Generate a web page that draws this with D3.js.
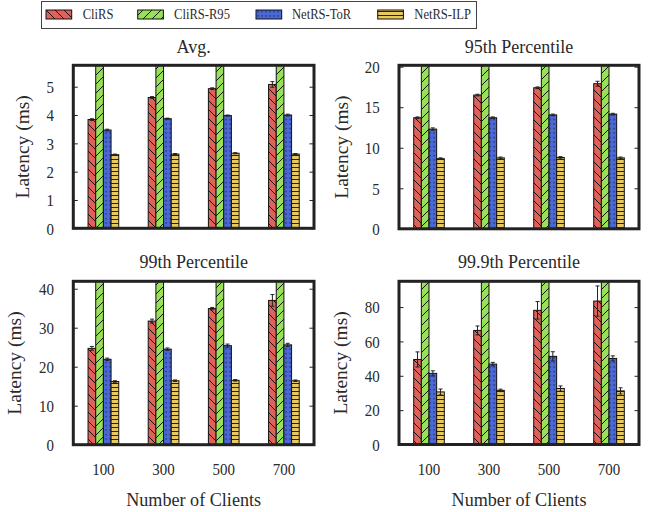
<!DOCTYPE html>
<html>
<head>
<meta charset="utf-8">
<script src="https://cdn.jsdelivr.net/npm/d3@7"></script>
<style>
  html, body { margin: 0; padding: 0; background: #fff; }
  svg { display: block; }
  text { font-family: "Liberation Serif", "Times New Roman", "DejaVu Serif", serif; fill: #2a2a2a; }
</style>
</head>
<body>
<svg id="chart" width="652" height="512"></svg>
<script>
// ---------- data ----------
const categories = ["100", "300", "500", "700"];
const seriesNames = ["CliRS", "CliRS-R95", "NetRS-ToR", "NetRS-ILP"];
const panelTitles = ["Avg.", "95th Percentile", "99th Percentile", "99.9th Percentile"];

// values (ms); CliRS-R95 bars run off the top of every panel (clipped)
const avgCliRS   = [3.84, 4.62, 4.93, 5.08];
const avgR95     = [6.4, 7.1, 7.6, 8.0];
const avgToR     = [3.47, 3.87, 3.98, 4.00];
const avgILP     = [2.60, 2.62, 2.65, 2.62];
const avgErr     = [[0.03, 0.03, 0.03, 0.10], [0, 0, 0, 0], [0.03, 0.02, 0.02, 0.03], [0.02, 0.02, 0.02, 0.02]];

const p95CliRS   = [13.7, 16.5, 17.4, 17.9];
const p95R95     = [24, 27, 29, 31];
const p95ToR     = [12.3, 13.7, 14.05, 14.15];
const p95ILP     = [8.65, 8.75, 8.80, 8.75];
const p95Err     = [[0.1, 0.1, 0.1, 0.3], [0, 0, 0, 0], [0.15, 0.1, 0.1, 0.1], [0.1, 0.1, 0.1, 0.1]];

const p99CliRS   = [24.7, 31.7, 34.9, 37.0];
const p99R95     = [50, 56, 60, 64];
const p99ToR     = [21.9, 24.5, 25.4, 25.6];
const p99ILP     = [16.2, 16.4, 16.5, 16.4];
const p99Err     = [[0.5, 0.5, 0.3, 1.5], [0, 0, 0, 0], [0.3, 0.3, 0.4, 0.4], [0.2, 0.2, 0.2, 0.2]];

const p999CliRS  = [49.5, 66.4, 78.1, 83.5];
const p999R95    = [110, 120, 130, 140];
const p999ToR    = [41.4, 46.8, 51.3, 50.1];
const p999ILP    = [30.6, 31.5, 32.6, 31.2];
const p999Err    = [[4.4, 2.6, 5.1, 8.8], [0, 0, 0, 0], [1.5, 1.0, 2.7, 1.5], [1.7, 0.7, 1.5, 1.8]];

const yTicksAvg  = [0, 1, 2, 3, 4, 5];
const yTicks95   = [0, 5, 10, 15, 20];
const yTicks99   = [0, 10, 20, 30, 40];
const yTicks999  = [0, 20, 40, 60, 80];
const yMaxes     = [5.756, 20.17, 41.9, 95];

// ---------- layout ----------
const svg = d3.select("#chart");
svg.append("rect").attr("width", 652).attr("height", 512).attr("fill", "#fff");

const colors = ["#e0605a", "#98e058", "#4a68d8", "#e8c860"];
const SX = 0.88;   // horizontal compression for tick text
const SXL = 0.93;  // for axis labels
const SXG = 0.9;   // for legend

const defs = svg.append("defs");
// CliRS: "\" hatch
let p = defs.append("pattern").attr("id", "pat0").attr("patternUnits", "userSpaceOnUse").attr("width", 9).attr("height", 9);
p.append("rect").attr("width", 9).attr("height", 9).attr("fill", colors[0]);
p.append("path").attr("d", "M0,0L9,9M-3,6L3,12M6,-3L12,3").attr("stroke", "#111").attr("stroke-width", 1);
// CliRS-R95: "/" hatch
p = defs.append("pattern").attr("id", "pat1").attr("patternUnits", "userSpaceOnUse").attr("width", 9).attr("height", 9);
p.append("rect").attr("width", 9).attr("height", 9).attr("fill", colors[1]);
p.append("path").attr("d", "M0,9L9,0M-3,3L3,-3M6,12L12,6").attr("stroke", "#111").attr("stroke-width", 1);
// NetRS-ToR: dots
p = defs.append("pattern").attr("id", "pat2").attr("patternUnits", "userSpaceOnUse").attr("width", 4).attr("height", 4.5);
p.append("rect").attr("width", 4).attr("height", 4.5).attr("fill", colors[2]);
p.append("rect").attr("x", 1.5).attr("y", 2).attr("width", 1.1).attr("height", 1.1).attr("fill", "#111");
// NetRS-ILP: horizontal lines
p = defs.append("pattern").attr("id", "pat3").attr("patternUnits", "userSpaceOnUse").attr("width", 4).attr("height", 4);
p.append("rect").attr("width", 4).attr("height", 4).attr("fill", colors[3]);
p.append("rect").attr("x", 0).attr("y", 3).attr("width", 4).attr("height", 1).attr("fill", "#222");

const panels = [
  { title: panelTitles[0], vals: [avgCliRS, avgR95, avgToR, avgILP], err: avgErr, ticks: yTicksAvg, ymax: yMaxes[0],
    x0: 73.3, x1: 314, y0: 65.3, y1: 228.3, titleY: 53, labX: 29.4, xlabels: false },
  { title: panelTitles[1], vals: [p95CliRS, p95R95, p95ToR, p95ILP], err: p95Err, ticks: yTicks95, ymax: yMaxes[1],
    x0: 399, x1: 639, y0: 65.3, y1: 228.8, titleY: 53, labX: 347.8, xlabels: false },
  { title: panelTitles[2], vals: [p99CliRS, p99R95, p99ToR, p99ILP], err: p99Err, ticks: yTicks99, ymax: yMaxes[2],
    x0: 73.3, x1: 314, y0: 281.3, y1: 444.7, titleY: 268.3, labX: 21.1, xlabels: true },
  { title: panelTitles[3], vals: [p999CliRS, p999R95, p999ToR, p999ILP], err: p999Err, ticks: yTicks999, ymax: yMaxes[3],
    x0: 399, x1: 639, y0: 281.3, y1: 444.5, titleY: 268.3, labX: 346.5, xlabels: true }
];

panels.forEach((P, pi) => {
  const g = svg.append("g");
  const x = d3.scaleBand().domain(categories).range([P.x0, P.x1]).paddingInner(0.49).paddingOuter(0.245);
  const xs = d3.scaleBand().domain(seriesNames).range([0, x.bandwidth()]);
  const y = d3.scaleLinear().domain([0, P.ymax]).range([P.y1, P.y0]);

  const clipId = "clip" + pi;
  defs.append("clipPath").attr("id", clipId)
    .append("rect").attr("x", P.x0).attr("y", P.y0).attr("width", P.x1 - P.x0).attr("height", P.y1 - P.y0);

  const plot = g.append("g").attr("clip-path", `url(#${clipId})`);
  seriesNames.forEach((s, si) => {
    const data = categories.map((c, ci) => ({ c, v: P.vals[si][ci], e: P.err[si][ci] }));
    plot.selectAll(null).data(data).enter().append("rect")
      .attr("x", d => x(d.c) + xs(s))
      .attr("y", d => y(d.v))
      .attr("width", xs.bandwidth())
      .attr("height", d => y(0) - y(d.v))
      .attr("fill", `url(#pat${si})`)
      .attr("stroke", "#111").attr("stroke-width", 1);
    // error bars
    const eb = plot.selectAll(null).data(data.filter(d => d.e > 0)).enter().append("g")
      .attr("stroke", "#222").attr("stroke-width", 1);
    const cx = d => x(d.c) + xs(s) + xs.bandwidth() / 2;
    eb.append("line").attr("x1", cx).attr("x2", cx).attr("y1", d => y(d.v - d.e)).attr("y2", d => y(d.v + d.e));
    eb.append("line").attr("x1", d => cx(d) - 2).attr("x2", d => cx(d) + 2).attr("y1", d => y(d.v + d.e)).attr("y2", d => y(d.v + d.e));
    eb.append("line").attr("x1", d => cx(d) - 2).attr("x2", d => cx(d) + 2).attr("y1", d => y(d.v - d.e)).attr("y2", d => y(d.v - d.e));
  });

  // y axis (labels + inward ticks)
  const ya = g.append("g").attr("transform", `translate(${P.x0},0)`)
    .call(d3.axisLeft(y).tickValues(P.ticks).tickSize(-4.5).tickFormat(d3.format("d")));
  ya.select(".domain").remove();
  ya.selectAll(".tick line").attr("stroke", "#222").attr("stroke-width", 1);
  ya.selectAll(".tick text").attr("x", 0).attr("dy", "0.34em")
    .attr("transform", `translate(-19.3,0) scale(${SX},1)`)
    .style("font-size", "17px");
  const yr = g.append("g").attr("transform", `translate(${P.x1},0)`)
    .call(d3.axisRight(y).tickValues(P.ticks).tickSize(-4.5).tickFormat(""));
  yr.select(".domain").remove();
  yr.selectAll(".tick line").attr("stroke", "#222").attr("stroke-width", 1);

  // frame
  g.append("rect").attr("x", P.x0).attr("y", P.y0).attr("width", P.x1 - P.x0).attr("height", P.y1 - P.y0)
    .attr("fill", "none").attr("stroke", "#222").attr("stroke-width", 3);

  // title
  g.append("text").attr("x", (P.x0 + P.x1) / 2).attr("y", P.titleY).attr("text-anchor", "middle")
    .style("font-size", "18px").text(P.title);

  // y label
  g.append("text").attr("text-anchor", "middle")
    .attr("transform", `translate(${P.labX},${(P.y0 + P.y1) / 2}) scale(${SXL},1) rotate(-90)`)
    .style("font-size", "19.5px").text("Latency (ms)");

  if (P.xlabels) {
    const xa = g.append("g").attr("transform", `translate(0,${P.y1})`)
      .call(d3.axisBottom(x).tickSize(0));
    xa.select(".domain").remove();
    xa.selectAll(".tick text").attr("y", 0).attr("dy", 0)
      .attr("transform", `translate(0,30.5) scale(${SX},1)`)
      .style("font-size", "17px");
    g.append("text").attr("text-anchor", "middle")
      .attr("transform", `translate(${(P.x0 + P.x1) / 2},506) scale(${SXL},1)`)
      .style("font-size", "19.5px").text("Number of Clients");
  }
});

// legend
const lg = svg.append("g");
lg.append("rect").attr("x", 41.5).attr("y", 1.5).attr("width", 435).attr("height", 27)
  .attr("fill", "#fff").attr("stroke", "#444").attr("stroke-width", 1);
const swX = [46, 137.7, 256, 377.7];
const txX = [82.7, 174, 292, 414.3];
seriesNames.forEach((s, si) => {
  lg.append("rect").attr("x", swX[si]).attr("y", 10).attr("width", 25.7).attr("height", 9)
    .attr("fill", `url(#pat${si})`).attr("stroke", "#111").attr("stroke-width", 1);
  lg.append("text").attr("transform", `translate(${txX[si]},19.3) scale(${SXG},1)`)
    .style("font-size", "14px").text(s);
});
</script>
</body>
</html>
